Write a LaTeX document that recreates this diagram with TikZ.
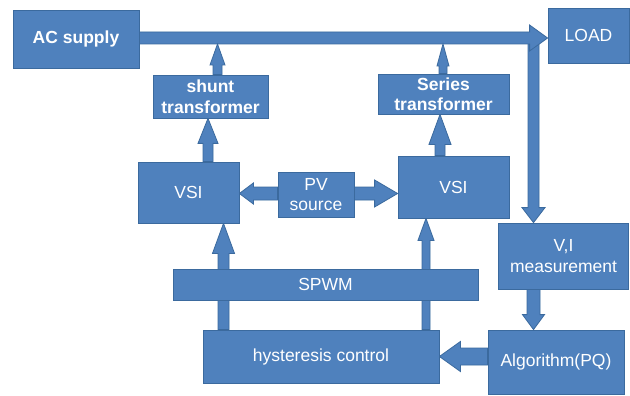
\documentclass[tikz,border=0pt]{standalone}
\usepackage{fontspec}
\setmainfont{Liberation Sans}
\usetikzlibrary{calc,backgrounds}
\definecolor{bfill}{HTML}{4F81BD}
\definecolor{bline}{HTML}{3B6A9E}
\newcommand\blockarr[5]{%
  \path[barr] let \p1=(#1), \p2=(#2), \n1={veclen(\x2-\x1,\y2-\y1)},
    \n2={(\x2-\x1)/\n1}, \n3={(\y2-\y1)/\n1} in
    ({\x1-(\n3)*#3},{\y1+(\n2)*#3})
    -- ({\x2-(\n2)*#5-(\n3)*#3},{\y2-(\n3)*#5+(\n2)*#3})
    -- ({\x2-(\n2)*#5-(\n3)*#4},{\y2-(\n3)*#5+(\n2)*#4})
    -- (\p2)
    -- ({\x2-(\n2)*#5+(\n3)*#4},{\y2-(\n3)*#5-(\n2)*#4})
    -- ({\x2-(\n2)*#5+(\n3)*#3},{\y2-(\n3)*#5-(\n2)*#3})
    -- ({\x1+(\n3)*#3},{\y1-(\n2)*#3}) -- cycle;
}
\tikzset{
  blk/.style={draw=bline, fill=bfill, line width=0.8pt, text=white, inner sep=0pt,
    align=center, font=\fontsize{17.5}{20.5}\selectfont},
  bblk/.style={blk, font=\fontsize{17.5}{20.5}\selectfont\bfseries},
  barr/.style={draw=bline, fill=bfill, line width=0.8pt, line join=miter},
}
\begin{document}
\begin{tikzpicture}[x=1pt,y=-1pt]
\useasboundingbox (0,0) rectangle (630,396);
% nodes
\node[bblk, minimum width=126pt, minimum height=58pt] (ac) at (76,39) {AC supply};
\node[blk, minimum width=81pt, minimum height=55pt] (load) at (588.5,35.5) {LOAD};
\node[bblk, minimum width=115pt, minimum height=43pt] (shunt) at (210.5,96.5) {shunt\\transformer};
\node[bblk, minimum width=131pt, minimum height=40pt] (series) at (443.5,94) {Series\\transformer};
\node[blk, minimum width=101pt, minimum height=61pt] (vsil) at (188.5,192.5) {VSI};
\node[blk, minimum width=111pt, minimum height=62pt] (vsir) at (453.5,187) {VSI};
\node[blk, minimum width=76pt, minimum height=45pt] (pv) at (316,194.5) {PV\\source};
\node[blk, minimum width=130pt, minimum height=66pt] (vi) at (563.5,256) {V,I\\measurement};
\node[blk, minimum width=305pt, minimum height=31pt] (spwm) at (325.5,284.5) {SPWM};
\node[blk, minimum width=236pt, minimum height=53pt] (hyst) at (321,356.5) {hysteresis control};
\node[blk, minimum width=136pt, minimum height=64pt] (alg) at (556,362) {Algorithm(PQ)};
% helper lines
\coordinate (yBus) at (0,38);
\coordinate (yBusB) at (0,44);
\coordinate (xDown) at (533.5,0);
\coordinate (yAH) at (0,356.5);
\coordinate (xL) at (223.5,0);
\coordinate (xR) at (426,0);
\coordinate (yPV) at (0,193.5);
\coordinate (xS1) at (208,0);
\coordinate (xS2) at (217.5,0);
\coordinate (xT1) at (440,0);
\coordinate (xT2) at (443,0);
% connector ends
\coordinate (busA) at (ac.east |- yBus);
\coordinate (busB) at (load.west |- yBus);
\coordinate (dnA) at (xDown |- yBus);
\coordinate (dnB) at (xDown |- vi.north);
\coordinate (vaA) at (xDown |- vi.south);
\coordinate (vaB) at (xDown |- alg.north);
\coordinate (ahA) at (alg.west |- yAH);
\coordinate (ahB) at (hyst.east |- yAH);
\coordinate (hlA) at (xL |- hyst.north);
\coordinate (hlB) at (xL |- vsil.south);
\coordinate (hrA) at (xR |- hyst.north);
\coordinate (hrB) at (xR |- vsir.south);
\coordinate (pvlA) at (pv.west |- yPV);
\coordinate (pvlB) at (vsil.east |- yPV);
\coordinate (pvrA) at (pv.east |- yPV);
\coordinate (pvrB) at (vsir.west |- yPV);
\coordinate (s1A) at (xS1 |- vsil.north);
\coordinate (s1B) at (xS1 |- shunt.south);
\coordinate (s2A) at (xS2 |- shunt.north);
\coordinate (s2B) at (xS2 |- yBusB);
\coordinate (t1A) at (xT1 |- vsir.north);
\coordinate (t1B) at (xT1 |- series.south);
\coordinate (t2A) at (xT2 |- series.north);
\coordinate (t2B) at (xT2 |- yBusB);
\begin{scope}[on background layer]
\fill[white] (0,0) rectangle (630,396);
\blockarr{dnA}{dnB}{5.5pt}{11.5pt}{15pt}
\blockarr{busA}{busB}{6pt}{13pt}{18pt}
\blockarr{vaA}{vaB}{6.5pt}{11pt}{15pt}
\blockarr{ahA}{ahB}{8.5pt}{15pt}{21pt}
\blockarr{hlA}{hlB}{5.5pt}{11pt}{30pt}
\blockarr{hrA}{hrB}{4pt}{8pt}{22pt}
\blockarr{pvlA}{pvlB}{6.5pt}{10.5pt}{14pt}
\blockarr{pvrA}{pvrB}{6.5pt}{13.5pt}{23pt}
\blockarr{s1A}{s1B}{5pt}{10pt}{25pt}
\blockarr{s2A}{s2B}{4.5pt}{7.5pt}{21pt}
\blockarr{t1A}{t1B}{5pt}{11pt}{30pt}
\blockarr{t2A}{t2B}{4pt}{6pt}{22pt}
\end{scope}
\end{tikzpicture}
\end{document}
